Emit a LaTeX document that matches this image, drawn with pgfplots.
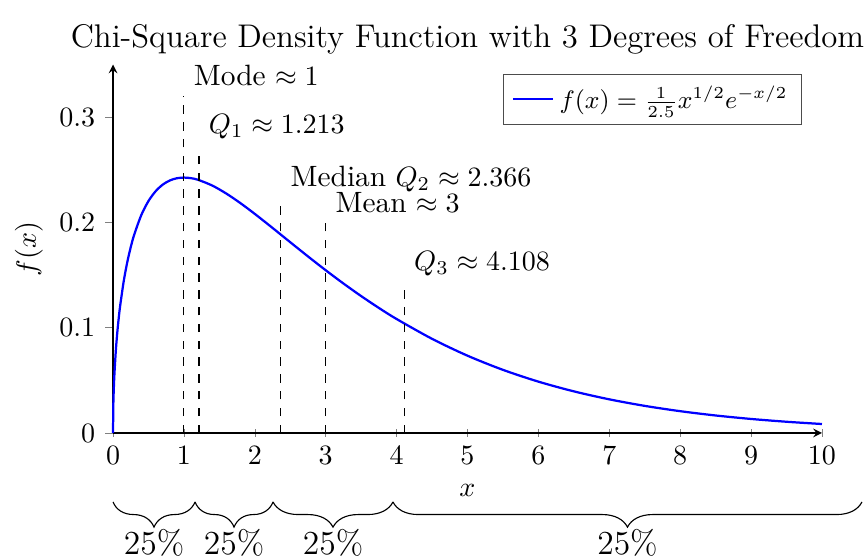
\documentclass[border=0pt]{standalone}
\usepackage{pgfplots}
\pgfplotsset{compat=1.18}
\usetikzlibrary{decorations.pathreplacing}
\newcommand{\wordfont}{\fontsize{10.5}{12.5}\selectfont}
\begin{document}
\begin{tikzpicture}
\begin{axis}[
  width=253.2pt, height=131.6pt, scale only axis,
  axis lines=left,
  xmin=0, xmax=10, ymin=0, ymax=0.35,
  xtick={0,1,2,3,4,5,6,7,8,9,10},
  ytick={0,0.1,0.2,0.3},
  xtick align=center, ytick align=outside,
  major tick length=0.1cm,
  clip=false,
  xlabel={$x$}, ylabel={$f(x)$},
  xlabel style={at={(axis description cs:0.5,-0.157)}, anchor=center},
  ylabel style={at={(axis description cs:-0.1185,0.5)}, anchor=center},
  title={Chi-Square Density Function with 3 Degrees of Freedom},
  title style={at={(axis description cs:0.5,1.047)}, anchor=base, yshift=-6pt,
               font=\fontsize{11.7}{14}\selectfont},
  legend style={at={(0.972,0.975)}, anchor=north east, font=\small,
                draw=black!70},
  legend cell align=left,
  legend image code/.code={\draw[#1] (0cm,0cm) -- (0.5cm,0cm);},
]
% density of the chi-square distribution, 3 degrees of freedom
\addplot[blue, thick, smooth] coordinates {
  (0,0) (0.005,0.02821) (0.01,0.03980) (0.02,0.05601) (0.04,0.07842)
  (0.06,0.09508) (0.08,0.10870) (0.1,0.12032) (0.15,0.14372) (0.2,0.16186)
  (0.25,0.17650) (0.3,0.18857) (0.4,0.20712) (0.5,0.22028) (0.6,0.22953)
  (0.7,0.23584) (0.8,0.23982) (0.9,0.24196) (1.0,0.24261) (1.1,0.24204)
  (1.2,0.24048) (1.4,0.23503) (1.6,0.22734) (1.8,0.21819) (2.0,0.20810)
  (2.25,0.19479) (2.5,0.18120) (2.75,0.16771) (3.0,0.15459) (3.25,0.14200)
  (3.5,0.13004) (3.75,0.11878) (4.0,0.10827) (4.5,0.08944) (5.0,0.07342)
  (5.5,0.05997) (6.0,0.04878) (6.5,0.03954) (7.0,0.03196) (7.5,0.02576)
  (8.0,0.02072) (8.5,0.01663) (9.0,0.01333) (9.5,0.01067) (10,0.00852)
};
\addlegendentry{$f(x)=\frac{1}{2.5}x^{1/2}e^{-x/2}$}

% markers for mode, quartiles and mean
\addplot[black, dashed, forget plot] coordinates {(1,0) (1,0.32)};
\addplot[black, dashed, forget plot] coordinates {(1.213,0) (1.213,0.27)};
\addplot[black, dashed, forget plot] coordinates {(2.366,0) (2.366,0.22)};
\addplot[black, dashed, forget plot] coordinates {(3,0) (3,0.2)};
\addplot[black, dashed, forget plot] coordinates {(4.108,0) (4.108,0.14)};

\node[above right] at (axis cs:1,0.32) {{\wordfont Mode} $\approx 1$};
\node[above right] at (axis cs:1.213,0.27) {$Q_1 \approx 1.213$};
\node[above right] at (axis cs:2.366,0.22) {{\wordfont Median} $Q_2 \approx 2.366$};
\node[above right] at (axis cs:3,0.2) {{\wordfont Mean} $\approx 3$};
\node[above right] at (axis cs:4.108,0.14) {$Q_3 \approx 4.108$};

% quarter braces below the axis
\draw[decorate, decoration={brace, mirror, amplitude=9pt}]
  (axis cs:0,-0.0655) -- (axis cs:1.157,-0.0655);
\draw[decorate, decoration={brace, mirror, amplitude=9pt}]
  (axis cs:1.157,-0.0655) -- (axis cs:2.257,-0.0655);
\draw[decorate, decoration={brace, mirror, amplitude=9pt}]
  (axis cs:2.257,-0.0655) -- (axis cs:3.949,-0.0655);
\draw[decorate, decoration={brace, mirror, amplitude=9pt}]
  (axis cs:3.949,-0.0655) -- (axis cs:10.564,-0.0655);
\tikzset{quarter/.style={anchor=north, inner sep=0pt, font=\large}}
\node[quarter] at (axis cs:0.5785,-0.091) {25\%};
\node[quarter] at (axis cs:1.707,-0.091) {25\%};
\node[quarter] at (axis cs:3.103,-0.091) {25\%};
\node[quarter] at (axis cs:7.2565,-0.091) {25\%};

\coordinate (O) at (axis cs:0,0);
\end{axis}
\pgfresetboundingbox
\path[use as bounding box] ([shift={(-40.36pt,-45.36pt)}]O) rectangle ([shift={(269.64pt,154.64pt)}]O);
\end{tikzpicture}
\end{document}
